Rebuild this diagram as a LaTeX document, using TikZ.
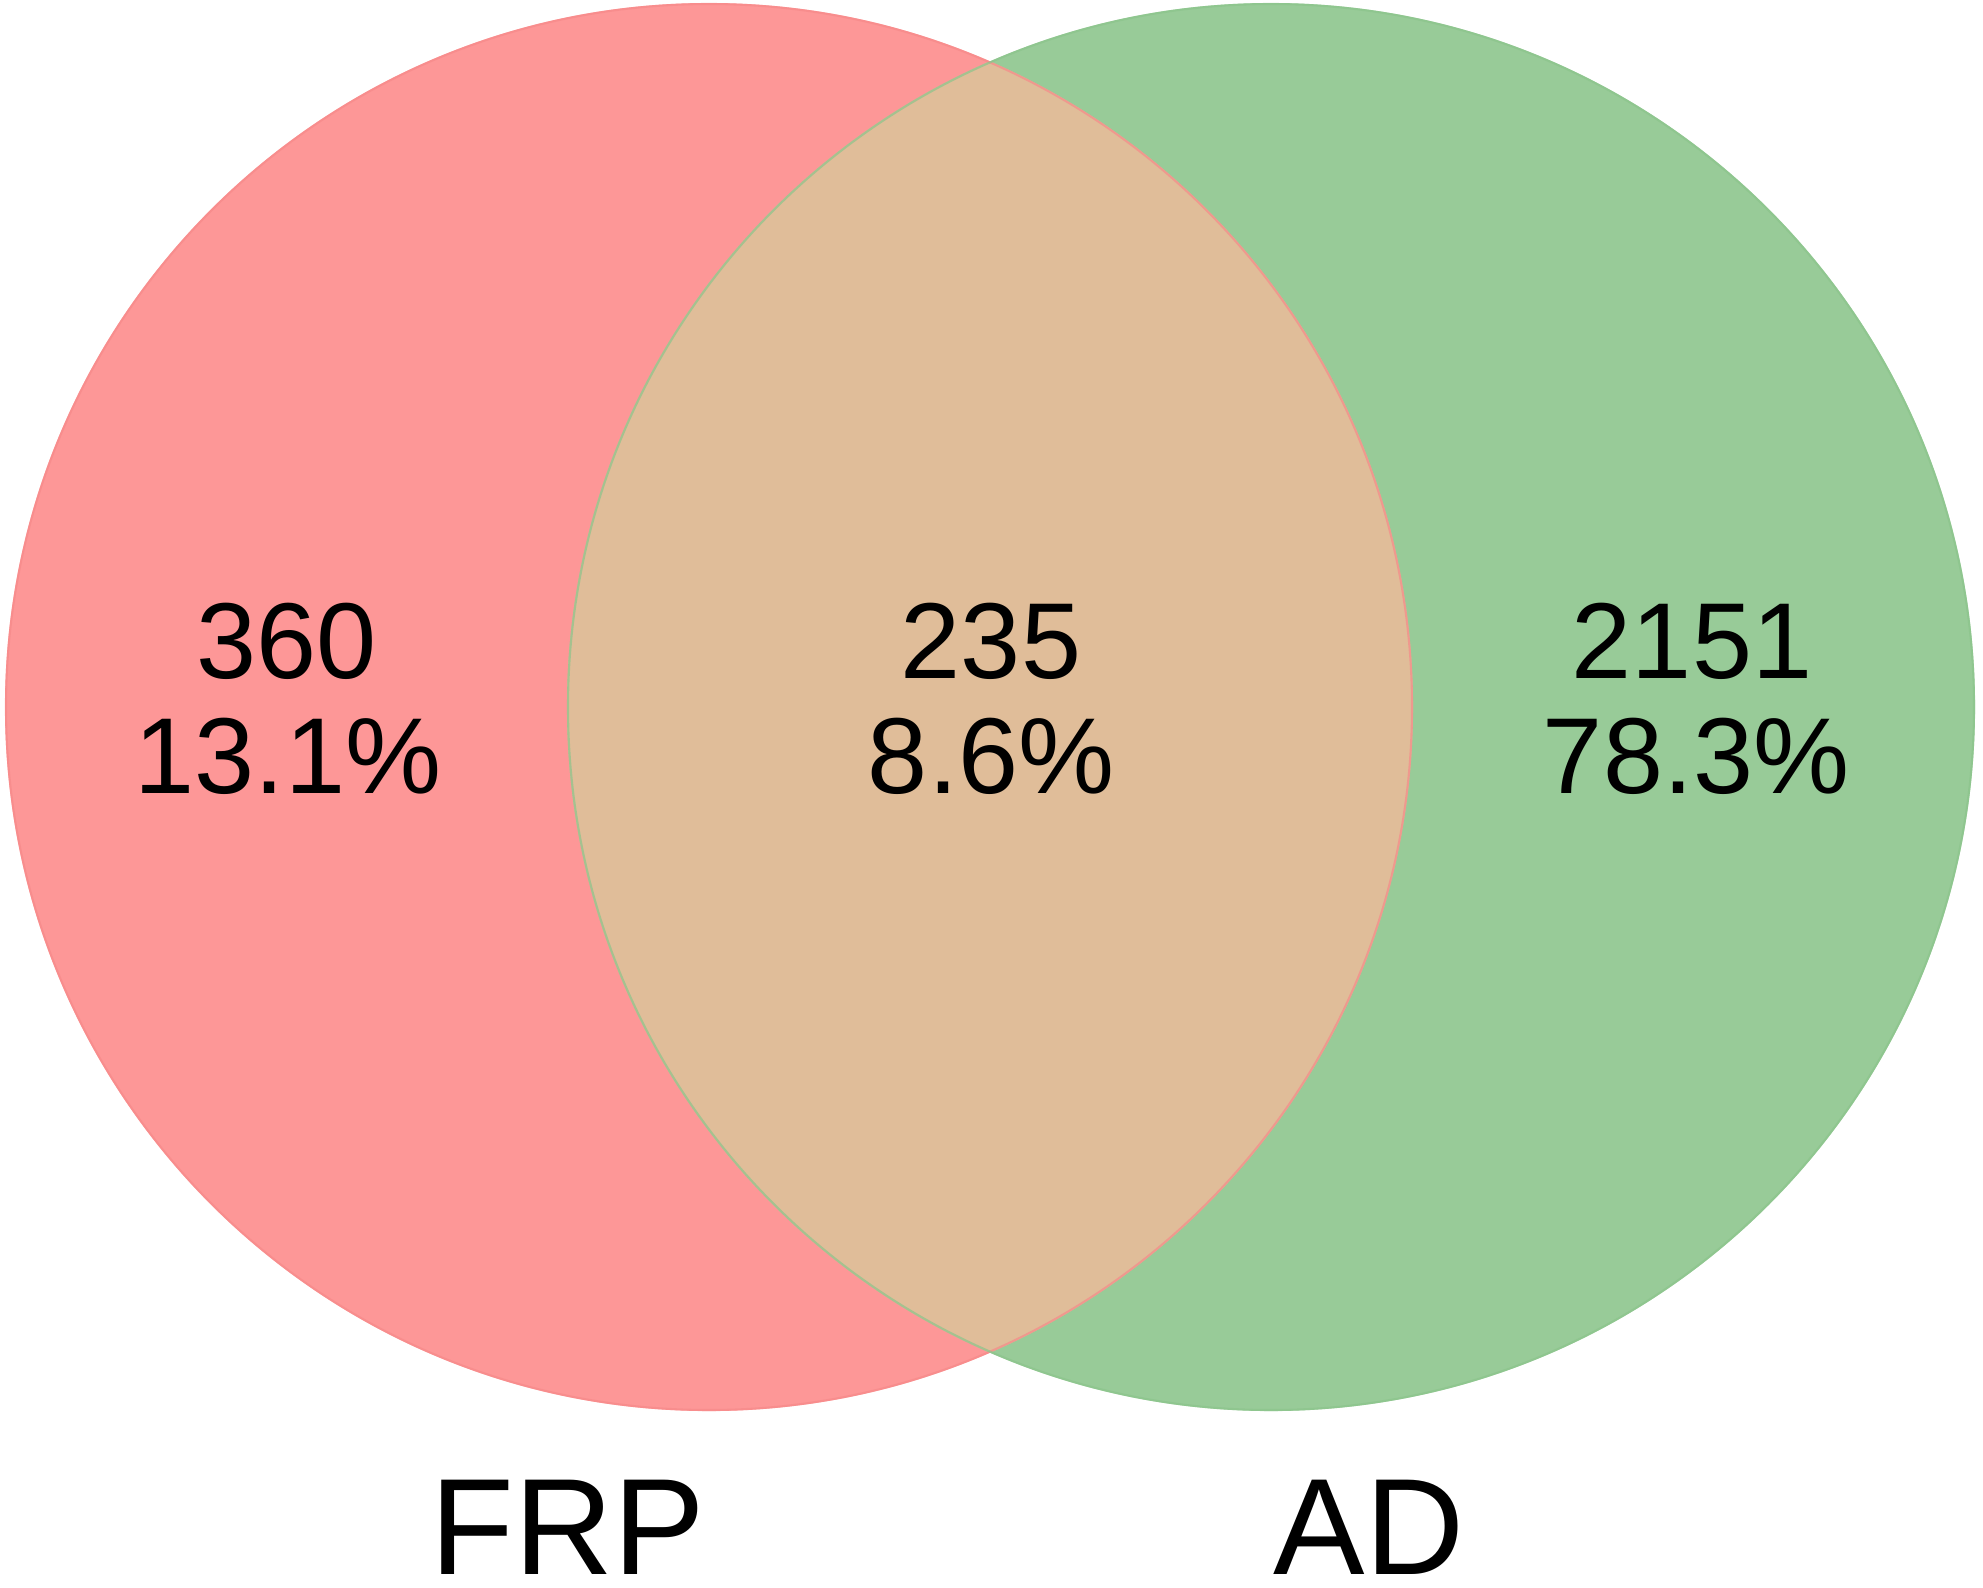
\documentclass[tikz,border=0pt]{standalone}
\usepackage{fontspec}
\setmainfont{Liberation Sans}
\definecolor{frpfill}{RGB}{253,151,151}
\definecolor{adfill}{RGB}{152,203,152}
\definecolor{bothfill}{RGB}{224,189,153}
\definecolor{frpedge}{RGB}{246,138,138}
\definecolor{adedge}{RGB}{140,196,140}
\begin{document}
\begin{tikzpicture}[x=0.01cm,y=-0.01cm,
  num/.style={font=\fontsize{30.7}{32}\selectfont, anchor=base, inner sep=0pt},
  setlabel/.style={font=\fontsize{39}{40}\selectfont, anchor=base, inner sep=0pt}]
\useasboundingbox (0,0) rectangle (1983,1587);
\fill[frpfill] (709,707) circle[radius=704];
\fill[adfill] (1271,707) circle[radius=704];
\begin{scope}
  \clip (709,707) circle[radius=704];
  \fill[bothfill] (1271,707) circle[radius=704];
\end{scope}
\draw[frpedge, line width=0.6pt, opacity=0.7] (709,707) circle[radius=703];
\draw[adedge, line width=0.6pt, opacity=0.7] (1271,707) circle[radius=703];
\node[num] (nfrp) at (287,678) {360};
\node[num] (pfrp) at (288,793) {13.1\%};
\node[num] (nboth) at (991,678) {235};
\node[num] (pboth) at (991,793) {8.6\%};
\node[num] (nad) at (1692,678) {2151};
\node[num] (pad) at (1696,793) {78.3\%};
\node[setlabel] (lfrp) at (568,1574) {FRP};
\node[setlabel] (lad) at (1369,1574) {AD};
\end{tikzpicture}
\end{document}
